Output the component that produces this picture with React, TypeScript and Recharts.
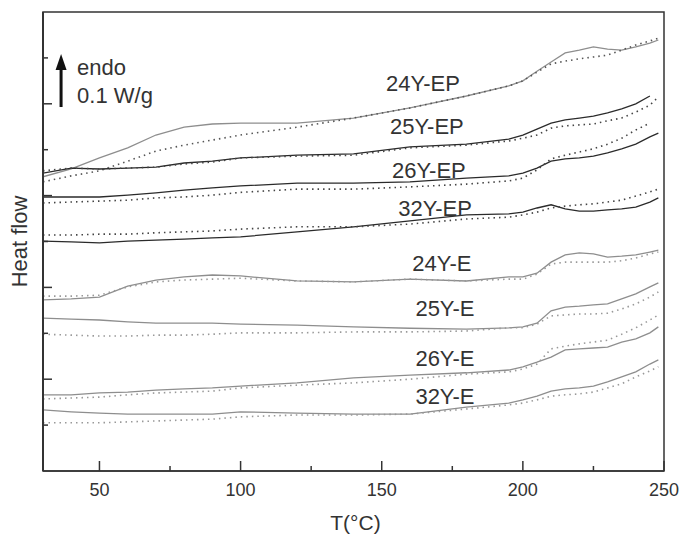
import React from 'react';
import { LineChart, Line, XAxis, YAxis, ReferenceArea, ReferenceDot } from 'recharts';

const FONT = "'Liberation Sans', Arial, sans-serif";

// temperature grid (°C)
const temps = [30, 40, 50, 60, 70, 80, 90, 100, 120, 140, 160, 180, 195, 200, 205, 210, 215, 220, 225, 230, 235, 240, 245, 248];

// heat flow curves (arbitrary offset units), solid = first scan, dotted = second scan
const ep24Solid = [6.41, 6.58, 6.82, 7.04, 7.32, 7.49, 7.56, 7.58, 7.58, 7.69, 7.91, 8.17, 8.39, 8.5, 8.71, 8.91, 9.11, 9.17, 9.24, 9.19, 9.17, 9.24, 9.32, 9.39];
const ep24Dotted = [6.3, 6.43, 6.54, 6.75, 6.97, 7.1, 7.21, 7.32, 7.49, 7.69, 7.91, 8.17, 8.39, 8.5, 8.69, 8.87, 8.93, 8.98, 9.02, 9.06, 9.17, 9.28, 9.37, 9.43];
const ep25Solid = [6.49, 6.6, 6.58, 6.6, 6.62, 6.71, 6.75, 6.82, 6.88, 6.91, 7.06, 7.12, 7.23, 7.32, 7.45, 7.58, 7.65, 7.69, 7.73, 7.8, 7.89, 8.0, 8.17, null];
const ep25Dotted = [6.54, 6.6, 6.58, 6.6, 6.62, 6.69, 6.73, 6.82, 6.86, 6.88, 7.04, 7.1, 7.19, 7.25, 7.32, 7.47, 7.52, 7.54, 7.56, 7.63, 7.69, 7.82, 7.97, 8.15];
const ep26Solid = [5.97, 5.97, 5.97, 6.01, 6.06, 6.12, 6.17, 6.21, 6.27, 6.27, 6.3, 6.38, 6.43, 6.49, 6.6, 6.75, 6.8, 6.82, 6.86, 6.93, 7.02, 7.12, 7.28, 7.36];
const ep26Dotted = [5.84, 5.86, 5.88, 5.9, 5.95, 5.97, 6.01, 6.07, 6.14, 6.14, 6.19, 6.25, 6.32, 6.38, 6.56, 6.8, 6.88, 6.95, 7.02, 7.12, 7.25, 7.43, 7.58, null];
const ep32Solid = [5.01, 4.99, 4.97, 5.01, 5.03, 5.05, 5.08, 5.1, 5.21, 5.32, 5.45, 5.58, 5.6, 5.64, 5.73, 5.8, 5.71, 5.66, 5.66, 5.69, 5.71, 5.75, 5.86, 5.95];
const ep32Dotted = [5.14, 5.14, 5.16, 5.16, 5.19, 5.21, 5.23, 5.27, 5.32, 5.32, 5.38, 5.49, 5.53, 5.58, 5.64, 5.73, 5.77, 5.8, 5.82, 5.86, 5.9, 5.99, 6.08, 6.14];
const e24Solid = [3.73, 3.75, 3.79, 4.03, 4.16, 4.23, 4.27, 4.25, 4.14, 4.12, 4.18, 4.14, 4.23, 4.23, 4.31, 4.55, 4.71, 4.75, 4.73, 4.66, 4.68, 4.71, 4.77, 4.81];
const e24Dotted = [3.81, 3.81, 3.83, 4.01, 4.12, 4.16, 4.18, 4.2, 4.14, 4.12, 4.18, 4.14, 4.18, 4.18, 4.29, 4.51, 4.55, 4.55, 4.55, 4.55, 4.58, 4.64, 4.73, 4.77];
const e25Solid = [3.33, 3.31, 3.29, 3.25, 3.22, 3.22, 3.22, 3.2, 3.18, 3.14, 3.11, 3.09, 3.12, 3.14, 3.22, 3.49, 3.57, 3.59, 3.62, 3.64, 3.75, 3.86, 4.01, 4.1];
const e25Dotted = [2.98, 2.96, 2.94, 2.94, 2.96, 2.96, 2.98, 3.01, 3.01, 3.03, 3.03, 3.05, 3.12, 3.12, 3.2, 3.38, 3.4, 3.42, 3.42, 3.44, 3.53, 3.64, 3.79, 3.9];
const e26Solid = [1.66, 1.66, 1.7, 1.72, 1.76, 1.79, 1.81, 1.85, 1.92, 2.03, 2.09, 2.14, 2.2, 2.27, 2.37, 2.48, 2.64, 2.66, 2.68, 2.7, 2.81, 2.88, 3.01, 3.14];
const e26Dotted = [1.57, 1.59, 1.61, 1.66, 1.7, 1.72, 1.74, 1.81, 1.87, 1.92, 2.0, 2.11, 2.16, 2.22, 2.33, 2.66, 2.72, 2.77, 2.81, 2.85, 2.98, 3.12, 3.29, 3.4];
const e32Solid = [1.33, 1.29, 1.26, 1.24, 1.24, 1.24, 1.24, 1.29, 1.26, 1.24, 1.24, 1.39, 1.48, 1.55, 1.63, 1.74, 1.79, 1.81, 1.85, 1.94, 2.05, 2.16, 2.33, 2.42];
const e32Dotted = [1.05, 1.05, 1.05, 1.07, 1.09, 1.11, 1.13, 1.18, 1.22, 1.22, 1.24, 1.35, 1.44, 1.48, 1.55, 1.63, 1.66, 1.68, 1.72, 1.81, 1.9, 2.05, 2.18, 2.27];

// curve names and where their labels sit (T, heat flow)
const curveNames = ['24Y-EP', '25Y-EP', '26Y-EP', '32Y-EP', '24Y-E', '25Y-E', '26Y-E', '32Y-E'];
const labelT = [164.6, 166.0, 166.7, 168.9, 171.3, 172.4, 172.4, 172.4];
const labelV = [8.27, 7.34, 6.39, 5.56, 4.36, 3.38, 2.29, 1.46];

const xTicks = [50, 75, 100, 125, 150, 175, 200, 225, 250];
const yTicks = [1, 2, 3, 4, 5, 6, 7, 8, 9];

const DARK = '#2b2b2b';
const GREY = '#8e8e8e';

const series = [
  { key: 'ep24s', values: ep24Solid, color: GREY, dotted: false },
  { key: 'ep24d', values: ep24Dotted, color: '#555', dotted: true },
  { key: 'ep25s', values: ep25Solid, color: DARK, dotted: false },
  { key: 'ep25d', values: ep25Dotted, color: '#444', dotted: true },
  { key: 'ep26s', values: ep26Solid, color: DARK, dotted: false },
  { key: 'ep26d', values: ep26Dotted, color: '#444', dotted: true },
  { key: 'ep32s', values: ep32Solid, color: DARK, dotted: false },
  { key: 'ep32d', values: ep32Dotted, color: '#444', dotted: true },
  { key: 'e24s', values: e24Solid, color: GREY, dotted: false },
  { key: 'e24d', values: e24Dotted, color: '#999', dotted: true },
  { key: 'e25s', values: e25Solid, color: GREY, dotted: false },
  { key: 'e25d', values: e25Dotted, color: '#999', dotted: true },
  { key: 'e26s', values: e26Solid, color: GREY, dotted: false },
  { key: 'e26d', values: e26Dotted, color: '#999', dotted: true },
  { key: 'e32s', values: e32Solid, color: GREY, dotted: false },
  { key: 'e32d', values: e32Dotted, color: '#999', dotted: true },
];

const data = temps.map((t, i) => {
  const row: any = { t };
  series.forEach(s => { row[s.key] = s.values[i]; });
  return row;
});

const XTick = (props: any) => {
  const { x, y, payload } = props;
  const major = payload.value % 50 === 0;
  return <g>
      <line x1={x} x2={x} y1={y} y2={y - (major ? 10 : 5)} stroke="#333" strokeWidth={1.5} />
      {major && <text x={x} y={y + 25} textAnchor="middle" fontSize={18} fill="#333" fontFamily={FONT}>
          {payload.value}
        </text>}
    </g>;
};

const YTick = (props: any) => {
  const { x, y, payload } = props;
  const major = payload.value % 2 === 0;
  return <line x1={x} x2={x + (major ? 9 : 5)} y1={y} y2={y} stroke="#333" strokeWidth={1.5} />;
};

const curveLabel = (name: string) => (p: any) => <text x={p.viewBox.x} y={p.viewBox.y} textAnchor="middle" fontSize={22} fill="#333" fontFamily={FONT}>
    {name}
  </text>;

const endoLabel = (p: any) => {
  const { x, y } = p.viewBox;
  return <g>
      <rect x={x - 1.5} y={y - 38} width={3} height={38} fill="#111" />
      <polygon points={`${x - 5.5},${y - 37} ${x + 5.5},${y - 37} ${x},${y - 53}`} fill="#111" />
      <text x={x + 16} y={y - 32} fontSize={22} fill="#333" fontFamily={FONT}>endo</text>
      <text x={x + 16} y={y - 4} fontSize={22} fill="#333" fontFamily={FONT}>0.1 W/g</text>
    </g>;
};

const heatLabel = (p: any) => {
  const vb = p.viewBox;
  const cx = 27;
  const cy = vb.y + vb.height / 2;
  return <text x={cx} y={cy} transform={`rotate(-90 ${cx} ${cy})`} textAnchor="middle" fontSize={22} fill="#333" fontFamily={FONT}>
      Heat flow
    </text>;
};

const tempLabel = (p: any) => {
  const vb = p.viewBox;
  return <text x={vb.x + vb.width / 2 + 2} y={530} textAnchor="middle" fontSize={21} fill="#333" fontFamily={FONT}>
      T(°C)
    </text>;
};

export default function App() {
  return <div style={{ position: 'absolute', left: 0, top: 0, width: 680, height: 537, background: '#fff' }}>
      <LineChart width={680} height={537} data={data} margin={{ top: 12, right: 16, bottom: 0, left: 0 }} style={{ fontFamily: FONT }}>
        <XAxis dataKey="t" type="number" domain={[30, 250]} ticks={xTicks} interval={0} height={66} tickSize={0} tickMargin={0} tickLine={false} axisLine={{ stroke: '#333', strokeWidth: 1.5 }} tick={<XTick />} label={tempLabel} allowDataOverflow />
        <YAxis type="number" domain={[0, 10]} ticks={yTicks} interval={0} width={43} tickSize={0} tickMargin={0} tickLine={false} axisLine={{ stroke: '#333', strokeWidth: 2 }} tick={<YTick />} label={heatLabel} allowDataOverflow />
        <ReferenceArea x1={30} x2={250} y1={0} y2={10} fill="none" stroke="#333" strokeWidth={1.5} />
        {series.map(s => <Line key={s.key} dataKey={s.key} type="linear" stroke={s.color} strokeWidth={s.dotted ? 1.6 : 1.3} strokeDasharray={s.dotted ? '1.5 4' : undefined} dot={false} activeDot={false} isAnimationActive={false} />)}
        {curveNames.map((n, i) => <ReferenceDot key={n} x={labelT[i]} y={labelV[i]} r={0} fill="none" stroke="none" label={curveLabel(n)} />)}
        <ReferenceDot x={36.4} y={7.93} r={0} fill="none" stroke="none" label={endoLabel} />
      </LineChart>
    </div>;
}
